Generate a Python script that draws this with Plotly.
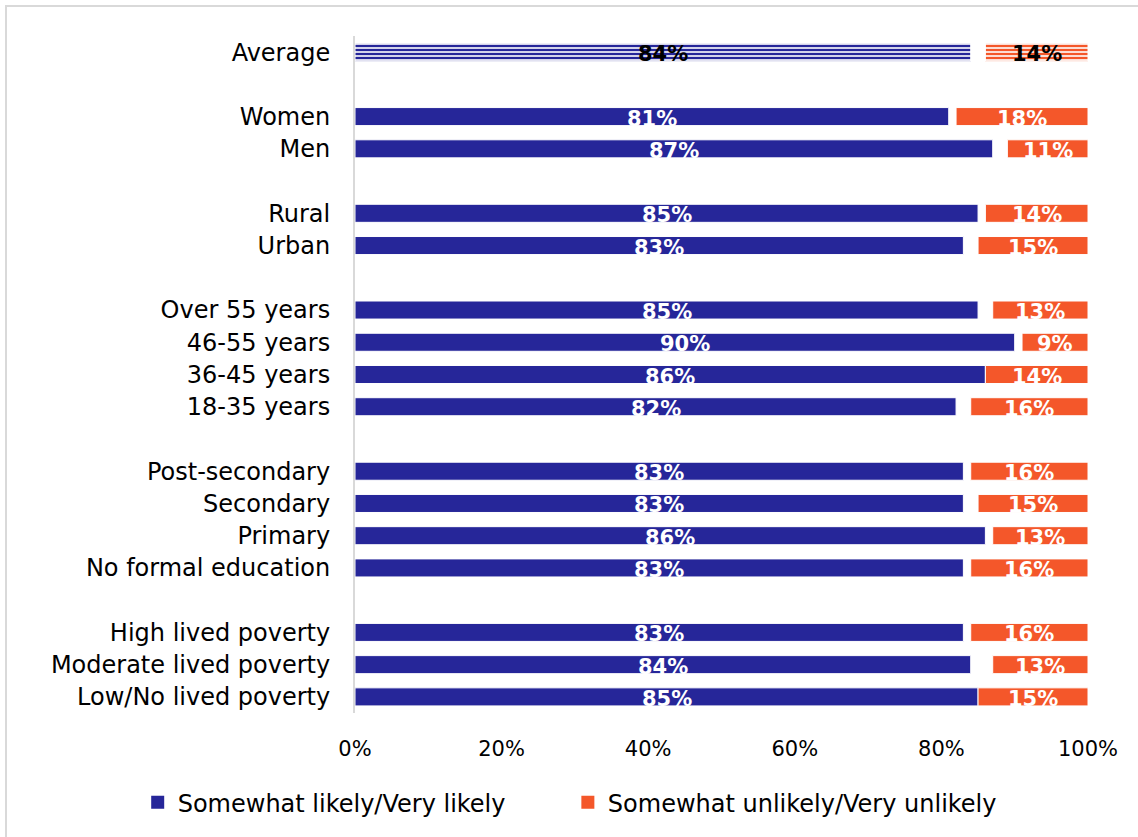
import plotly.graph_objects as go

# Survey groups, top to bottom, with blank spacer rows between blocks
categories = [
    "Average", "",
    "Women", "Men", "",
    "Rural", "Urban", "",
    "Over 55 years", "46-55 years", "36-45 years", "18-35 years", "",
    "Post-secondary", "Secondary", "Primary", "No formal education", "",
    "High lived poverty", "Moderate lived poverty", "Low/No lived poverty",
]
likely = [84, None, 81, 87, None, 85, 83, None, 85, 90, 86, 82, None,
          83, 83, 86, 83, None, 83, 84, 85]
unlikely = [14, None, 18, 11, None, 14, 15, None, 13, 9, 14, 16, None,
            16, 15, 13, 16, None, 16, 13, 15]
series_names = ["Somewhat likely/Very likely", "Somewhat unlikely/Very unlikely"]

x_ticks = [0, 0.2, 0.4, 0.6, 0.8, 1.0]

BLUE = "#262699"
ORANGE = "#F4572A"
FONT = "DejaVu Sans"

rows = list(range(len(categories)))
main = [i for i in rows if likely[i] is not None and i != 0]

fig = go.Figure()

# Group rows: likely from 0, unlikely anchored at the right edge
fig.add_trace(go.Bar(
    y=main, x=[likely[i] / 100 for i in main], orientation="h", showlegend=False,
    marker=dict(color=BLUE, line=dict(color="white", width=1)),
    width=0.56, hoverinfo="skip",
))
fig.add_trace(go.Bar(
    y=main, x=[unlikely[i] / 100 for i in main], base=[1 - unlikely[i] / 100 for i in main],
    orientation="h", showlegend=False,
    marker=dict(color=ORANGE, line=dict(color="white", width=1)),
    width=0.56, hoverinfo="skip",
))

# Average row drawn with a striped fill
fig.add_trace(go.Bar(
    y=[0], x=[likely[0] / 100], orientation="h", showlegend=False,
    marker=dict(color="white", line=dict(color="white", width=1),
                pattern=dict(shape="-", fgcolor=BLUE, bgcolor="white", size=4, solidity=0.6,
                             fgopacity=1)),
    width=0.56, hoverinfo="skip",
))
fig.add_trace(go.Bar(
    y=[0], x=[unlikely[0] / 100], base=[1 - unlikely[0] / 100], orientation="h", showlegend=False,
    marker=dict(color="white", line=dict(color="white", width=1),
                pattern=dict(shape="-", fgcolor=ORANGE, bgcolor="white", size=4, solidity=0.6,
                             fgopacity=1)),
    width=0.56, hoverinfo="skip",
))

# Legend keys as square markers
for name, color, leg in [(series_names[0], BLUE, "legend"), (series_names[1], ORANGE, "legend2")]:
    fig.add_trace(go.Scatter(
        x=[None], y=[None], mode="markers", name=name, legend=leg,
        marker=dict(symbol="square", size=13, color=color),
    ))

# Value labels centred in each segment
for i in rows:
    if likely[i] is None:
        continue
    color = "black" if i == 0 else "white"
    fig.add_annotation(x=likely[i] / 200, y=i, text=f"<b>{likely[i]}%</b>", showarrow=False,
                       font=dict(family=FONT, size=21, color=color), yshift=-2)
    fig.add_annotation(x=1 - unlikely[i] / 200, y=i, text=f"<b>{unlikely[i]}%</b>", showarrow=False,
                       font=dict(family=FONT, size=21, color=color), yshift=-2)

# Light frame around the chart
fig.add_shape(type="rect", xref="paper", yref="paper",
              x0=-349 / 733, x1=1.1, y0=-0.3, y1=1 + 30 / 677,
              line=dict(color="#d9d9d9", width=2), fillcolor="rgba(0,0,0,0)")

legend_style = dict(orientation="h", xref="container", yref="container", y=0.041,
                    xanchor="left", yanchor="middle", font=dict(size=24),
                    itemwidth=30, bgcolor="rgba(0,0,0,0)")

fig.update_layout(
    width=1138, height=837,
    margin=dict(l=355, r=50, t=36, b=124, autoexpand=False),
    paper_bgcolor="white", plot_bgcolor="white",
    barmode="overlay",
    font=dict(family=FONT, size=23, color="black"),
    xaxis=dict(range=[0, 1], tickvals=x_ticks, tickformat=".0%", showgrid=False,
               zeroline=False, showline=False, ticks="", tickfont=dict(size=21), ticklabelstandoff=21),
    yaxis=dict(range=[len(categories) - 0.5, -0.5], tickvals=rows, ticktext=categories,
               showgrid=False, zeroline=False, showline=True, linecolor="#d9d9d9", linewidth=2,
               ticks="", tickfont=dict(size=24), ticklabelstandoff=18),
    legend=dict(x=0.121, **legend_style),
    legend2=dict(x=0.499, **legend_style),
    showlegend=True,
)

fig.write_html("out.html")
